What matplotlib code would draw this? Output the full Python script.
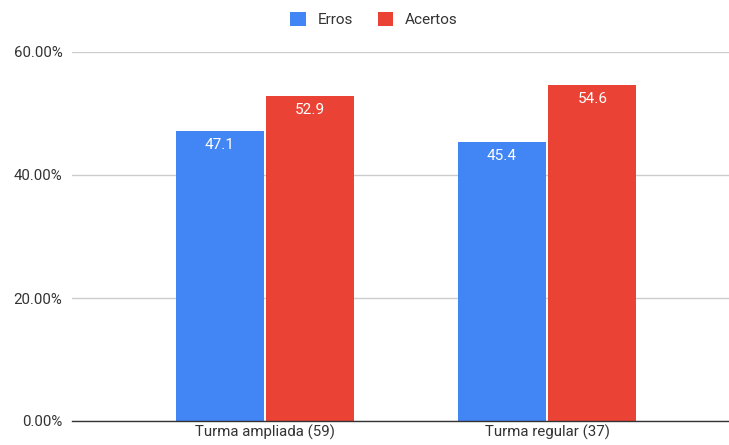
import numpy as np
import matplotlib.pyplot as plt
from matplotlib.ticker import FuncFormatter

plt.rcParams['font.family'] = ['Roboto', 'DejaVu Sans']

turmas = ['Turma ampliada (59)', 'Turma regular (37)']
erros = [47.1, 45.4]
acertos = [52.9, 54.6]

blue = '#4285F4'
red = '#EA4335'

fig = plt.figure(figsize=(7.29, 4.45), dpi=100)
ax = fig.add_axes([72 / 729, 24 / 445, 657 / 729, 369 / 445])

x = np.arange(len(turmas))
w = 0.312
b1 = ax.bar(x - 0.161, erros, w, color=blue, label='Erros', zorder=3)
b2 = ax.bar(x + 0.161, acertos, w, color=red, label='Acertos', zorder=3)

for bars, vals in ((b1, erros), (b2, acertos)):
    for rect, v in zip(bars, vals):
        ax.annotate(f'{v}', (rect.get_x() + rect.get_width() / 2, v),
                    xytext=(0, -5), textcoords='offset points',
                    ha='center', va='top', color='white', fontsize=11, zorder=4)

ax.set_ylim(0, 60)
ax.set_xlim(-0.684, 1.645)
ax.set_yticks([0, 20, 40, 60])
ax.yaxis.set_major_formatter(FuncFormatter(lambda v, p: f'{v:.2f}%'))
ax.set_xticks(x)
ax.set_xticklabels(turmas)
ax.tick_params(axis='both', length=0, labelsize=10.8, colors='#333333')
ax.tick_params(axis='y', pad=7)
ax.tick_params(axis='x', pad=3)

ax.grid(axis='y', color='#cccccc', linewidth=1, zorder=0)
for s in ['top', 'right', 'left']:
    ax.spines[s].set_visible(False)
ax.spines['bottom'].set_color('#333333')
ax.spines['bottom'].set_linewidth(1)
ax.spines['bottom'].set_zorder(5)

ax.legend(loc='lower center', bbox_to_anchor=(0.46, 1.05), ncol=2, frameon=False,
          fontsize=11, handlelength=1.0, handleheight=1.0, columnspacing=1.6,
          handletextpad=0.8, borderaxespad=0, labelcolor='#333333')

fig.savefig('out.png', dpi=100)
